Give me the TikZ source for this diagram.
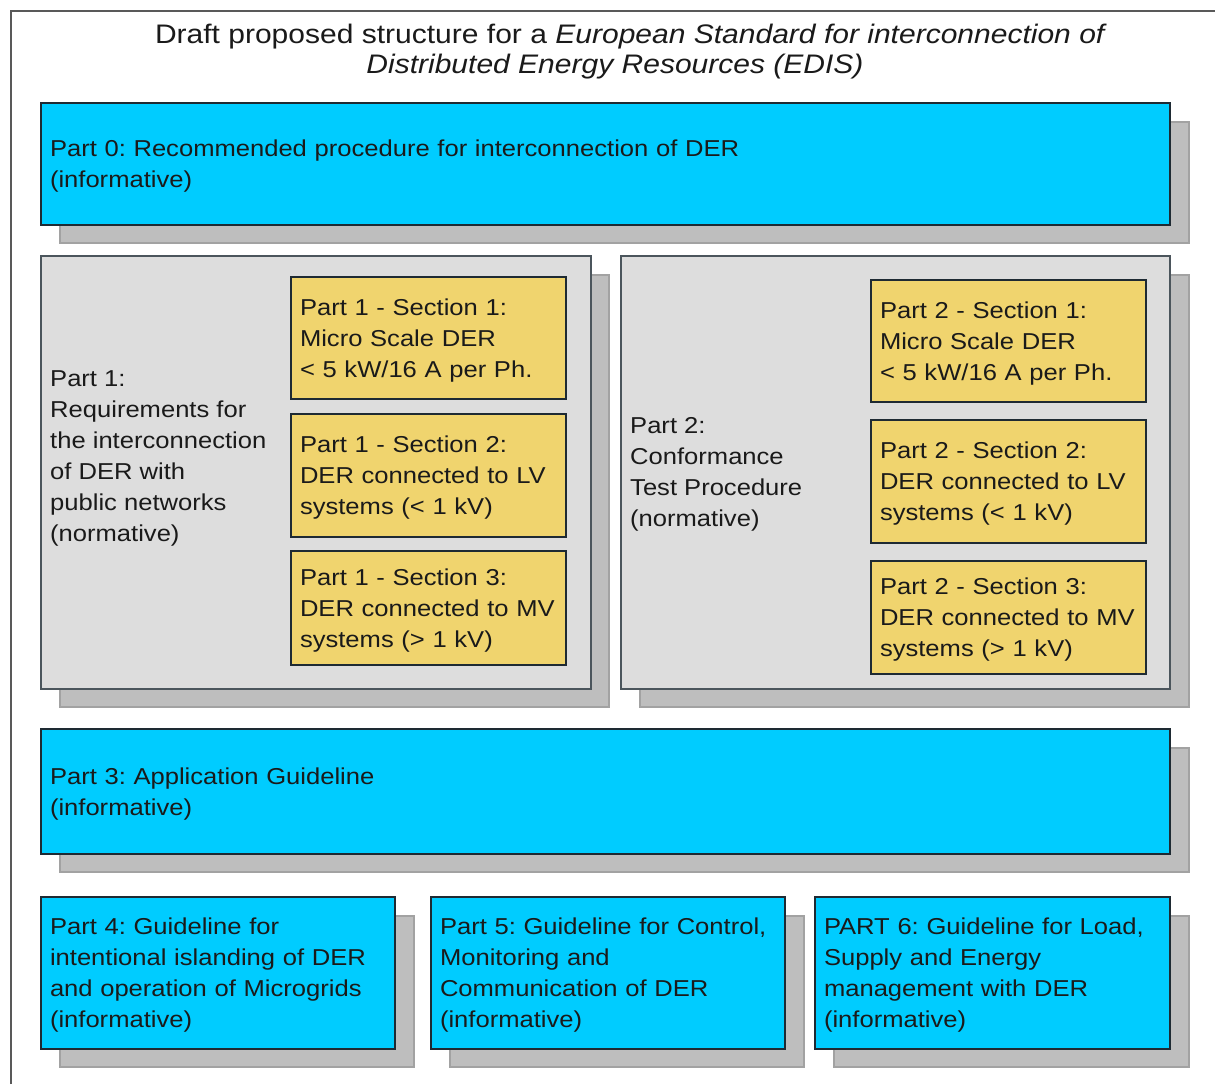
\documentclass[tikz,border=0pt]{standalone}
\usepackage{fontspec}
\setmainfont{Liberation Sans}[FakeStretch=1.112]
\newfontfamily\titlefont{Liberation Sans}[FakeStretch=1.12]
\begin{document}
\frenchspacing
\definecolor{cyanpart}{HTML}{00CCFF}
\definecolor{graypart}{HTML}{DDDDDD}
\definecolor{yellowsec}{HTML}{F0D46E}
\definecolor{shadowgray}{HTML}{BEBEBE}
\definecolor{shadowedge}{HTML}{A2A2A2}
\definecolor{edgedark}{HTML}{1E2A33}
\definecolor{textdark}{HTML}{1A1A1A}
\begin{tikzpicture}[x=1pt,y=-1pt,
  every node/.style={font=\fontsize{23}{31}\selectfont, text=textdark},
  shadowbox/.style={fill=shadowgray, draw=shadowedge, line width=1.2pt},
  partbox/.style={draw=edgedark, line width=1.4pt, rectangle, inner xsep=9pt, inner ysep=0pt, align=left,
    execute at begin node={\rule{0pt}{21pt}}},
  cyanbox/.style={partbox, fill=cyanpart},
  graybox/.style={draw=edgedark!80, line width=1.4pt, rectangle, fill=graypart, inner sep=0pt},
  secbox/.style={partbox, fill=yellowsec},
  plain/.style={inner sep=0pt, align=left},
  titletext/.style={inner sep=0pt, anchor=base, font=\titlefont\fontsize{26.8}{30}\selectfont}
]
\useasboundingbox (0,0) rectangle (1215,1084);
\fill[white] (0,0) rectangle (1215,1084);

% outer frame (left and top edges)
\draw[line width=1.4pt, draw=black!65] (11,1084) -- (11,11) -- (1215,11);

% title
\node[titletext] (title1) at (631,43) {Draft proposed structure for a \textit{European Standard for interconnection of}};
\node[titletext] (title2) at (615,73) {\textit{Distributed Energy Resources (EDIS)}};

% shadows
\draw[shadowbox] (60,122) rectangle (1189,243);
\draw[shadowbox] (60,275) rectangle (609,707);
\draw[shadowbox] (640,275) rectangle (1189,707);
\draw[shadowbox] (60,748) rectangle (1189,872);
\draw[shadowbox] (60,916) rectangle (414,1067);
\draw[shadowbox] (450,916) rectangle (804,1067);
\draw[shadowbox] (834,916) rectangle (1189,1067);

% Part 0
\node[cyanbox, text width=1111pt, minimum height=122pt] (p0) at (605.5,164)
  {Part 0: Recommended procedure for interconnection of DER\\(informative)};

% Part 1 with its sections
\node[graybox, minimum width=550pt, minimum height=433pt] (p1box) at (316,472.5) {};
\node[plain, anchor=west] (p1) at (50,458)
  {Part 1:\\Requirements for\\the interconnection\\of DER with\\public networks\\(normative)};
\node[secbox, text width=257pt, minimum height=122pt] (s11) at (428.5,338)
  {Part 1 - Section 1:\\Micro Scale DER\\< 5 kW/16 A per Ph.};
\node[secbox, text width=257pt, minimum height=123pt] (s12) at (428.5,475.5)
  {Part 1 - Section 2:\\DER connected to LV\\systems (< 1 kV)};
\node[secbox, text width=257pt, minimum height=114pt] (s13) at (428.5,608)
  {Part 1 - Section 3:\\DER connected to MV\\systems (> 1 kV)};

% Part 2 with its sections
\node[graybox, minimum width=549pt, minimum height=433pt] (p2box) at (895.5,472.5) {};
\node[plain, anchor=west] (p2) at (630,474)
  {Part 2:\\Conformance\\Test Procedure\\(normative)};
\node[secbox, text width=257pt, minimum height=122pt] (s21) at (1008.5,341)
  {Part 2 - Section 1:\\Micro Scale DER\\< 5 kW/16 A per Ph.};
\node[secbox, text width=257pt, minimum height=123pt] (s22) at (1008.5,481.5)
  {Part 2 - Section 2:\\DER connected to LV\\systems (< 1 kV)};
\node[secbox, text width=257pt, minimum height=113pt] (s23) at (1008.5,617.5)
  {Part 2 - Section 3:\\DER connected to MV\\systems (> 1 kV)};

% Part 3
\node[cyanbox, text width=1111pt, minimum height=125pt] (p3) at (605.5,791.5)
  {Part 3: Application Guideline\\(informative)};

% Parts 4 to 6
\node[cyanbox, text width=336pt, minimum height=152pt] (p4) at (218,973)
  {Part 4: Guideline for\\intentional islanding of DER\\and operation of Microgrids\\(informative)};
\node[cyanbox, text width=336pt, minimum height=152pt] (p5) at (608,973)
  {Part 5: Guideline for Control,\\Monitoring and\\Communication of DER\\(informative)};
\node[cyanbox, text width=337pt, minimum height=152pt] (p6) at (992.5,973)
  {PART 6: Guideline for Load,\\Supply and Energy\\management with DER\\(informative)};
\end{tikzpicture}
\end{document}
